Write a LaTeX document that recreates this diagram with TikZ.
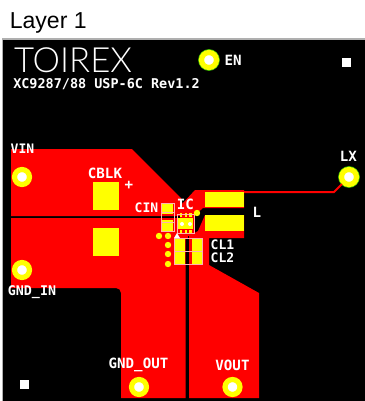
\documentclass[tikz,border=0pt]{standalone}
\usepackage{fontspec}
\setmainfont{Liberation Sans}
\setmonofont{DejaVu Sans Mono}
\newfontfamily\logofont{Lato Light}
\usetikzlibrary{positioning}
\definecolor{copper}{RGB}{255,0,0}
\definecolor{solder}{RGB}{255,255,0}
\definecolor{rim}{RGB}{60,190,0}
\definecolor{edge}{RGB}{175,175,175}
\begin{document}
\begin{tikzpicture}[x=0.75pt, y=-0.75pt,
		pad/.style={circle, draw=solder, line width=3.9pt, fill=white, minimum size=11.2pt, inner sep=0pt},
		rimpad/.style={pad, preaction={draw=rim, line width=5pt}},
		via/.style={circle, fill=solder, minimum size=4.8pt, inner sep=0pt},
		land/.style={rectangle, fill=solder, inner sep=0pt},
		pin/.style={rectangle, fill=solder, minimum width=2.2pt, minimum height=2.6pt, inner sep=0pt},
		fiducial/.style={rectangle, fill=white, minimum size=6.8pt, inner sep=0pt},
		dot/.style={circle, fill=white, minimum size=3pt, inner sep=0pt},
		outline/.style={draw=white!70!red, line width=0.4pt},
		silk/.style={text=white, inner sep=0pt, font=\ttfamily\bfseries\fontsize{10.6}{11}\selectfont},
		silksmall/.style={silk, font=\ttfamily\bfseries\fontsize{9.8}{11}\selectfont}]
		\useasboundingbox (0,0) rectangle (365,401);
		\fill[white] (0,0) rectangle (365,401);
		\fill[edge] (2,38) rectangle (365,401);
		\fill[black] (3,40) rectangle (365,401);
		\node[anchor=base west, inner sep=0pt, font=\fontsize{17.3}{18}\selectfont] (title) at (9.5,28) {Layer 1};

		\fill[copper] (11,149) -- (132,149) -- (181,198) -- (183,205) -- (183,216) -- (11,216) -- cycle;
		\fill[copper] (11,218) -- (183,218) -- (185.5,238) -- (185.5,398) -- (121,398) -- (121,293) arc[start angle=0, end angle=-90, radius=5] -- (11,288) -- cycle;
		\fill[copper] (189,398) -- (259,398) -- (259,293) -- (209,265) -- (209,238) -- (244,238) -- (244,215) -- (205,215) -- (198,231) -- (189,236) -- cycle;
		\fill[copper] (195,190) -- (244,190) -- (244,208) -- (203,208) -- (194,216) -- (177,216) -- (177,210) -- (183,203) -- cycle;
		\fill[copper] (177,214) rectangle (194,236);
		\fill[copper] (174,218) rectangle (188,238);
		\fill[black] (176,216.2) rectangle (180,217.8);

		\node[land, minimum width=29.2pt, minimum height=11.6pt] (l1) at (224.5,199.5) {};
		\node[land, minimum width=29.2pt, minimum height=12pt] (l2) at (224.5,223) {};
		\node[land, minimum width=19.5pt, minimum height=21pt] (cblk1) at (106,196) {};
		\node[land, minimum width=19.5pt, minimum height=21pt] (cblk2) at (106,242) {};
		\node[land, minimum width=8.6pt, minimum height=8.2pt] (cin1) at (167.5,208.5) {};
		\node[land, minimum width=8.6pt, minimum height=8.2pt] (cin2) at (167.5,225.5) {};
		\node[land, minimum width=8.2pt, minimum height=19.5pt] (cl1) at (179.5,251) {};
		\node[land, minimum width=8.2pt, minimum height=19.5pt] (cl2) at (197,251) {};
		\node[land, minimum width=11.6pt, minimum height=8pt] (ic) at (185.5,223.5) {};

		\node[pin] (p1) at (181,214.8) {};
		\node[pin] (p2) at (186,214.8) {};
		\node[pin] (p3) at (190.5,214.8) {};
		\node[pin] (p4) at (181,232) {};
		\node[pin] (p5) at (186,232) {};
		\node[pin] (p6) at (190.5,232) {};
		\node[dot] (d1) at (182,224) {};
		\node[dot] (d2) at (190,224) {};

		\fill[black] (185.7,238) rectangle (189.3,398);
		\draw[outline] (161,203) rectangle (174.5,231);
		\draw[outline] (161,212) rectangle (174.5,222);
		\draw[outline] (177,214) rectangle (194,233);
		\draw[outline] (174,238) rectangle (202,264);
		\draw[outline] (174,251) -- (202,251);
		\fill[white] (174,238) -- (180,238) -- (177,233) -- cycle;

		\node[via] (v1) at (159,236) {};
		\node[via] (v2) at (168,236) {};
		\node[via] (v3) at (168,245) {};
		\node[via] (v4) at (168,254) {};
		\node[via] (v5) at (168,264) {};
		\node[via] (v6) at (197,213) {};

		\node[pad] (vin) at (22,177) {};
		\node[pad] (gndin) at (22,270) {};
		\node[pad] (gndout) at (139,387) {};
		\node[pad] (vout) at (232.5,387) {};
		\node[rimpad] (en) at (209,60) {};
		\node[rimpad] (lx) at (349,177) {};
		\coordinate (lxstart) at (244,192);
		\coordinate (lxbend) at (334,192);
		\draw[copper, line width=1.5pt] (lxstart) -- (lxbend) -- (lx);

		\node[fiducial] (m1) at (346.5,62.5) {};
		\node[fiducial] (m2) at (24.5,384.5) {};

		\node[text=white, inner sep=0pt, font=\logofont\fontsize{26}{26}\selectfont] (logo) at (73,60) {TOIREX};
		\node[silk, anchor=west, font=\ttfamily\bfseries\fontsize{10.1}{11}\selectfont] (rev) at (13,84.5) {XC9287/88 USP-6C Rev1.2};
		\node[silk, right=4pt of en] (enl) {EN};
		\node[silk] (lxl) at (348.5,156) {LX};
		\node[silksmall] (vinl) at (22.5,149) {VIN};
		\node[silk] (cblkl) at (105,173) {CBLK};
		\node[silk] (plus) at (129,185) {+};
		\node[silksmall] (cinl) at (146.5,208) {CIN};
		\node[silk] (icl) at (185.5,204) {IC};
		\node[silk] (ll) at (257,212) {L};
		\node[silksmall] (cl1l) at (222.5,245) {CL1};
		\node[silksmall] (cl2l) at (222.5,258) {CL2};
		\node[silk, font=\ttfamily\bfseries\fontsize{10}{11}\selectfont] (gndinl) at (32,292) {GND\_IN};
		\node[silk] (gndoutl) at (138.5,365) {GND\_OUT};
		\node[silk] (voutl) at (232.5,365) {VOUT};
	\end{tikzpicture}
\end{document}
